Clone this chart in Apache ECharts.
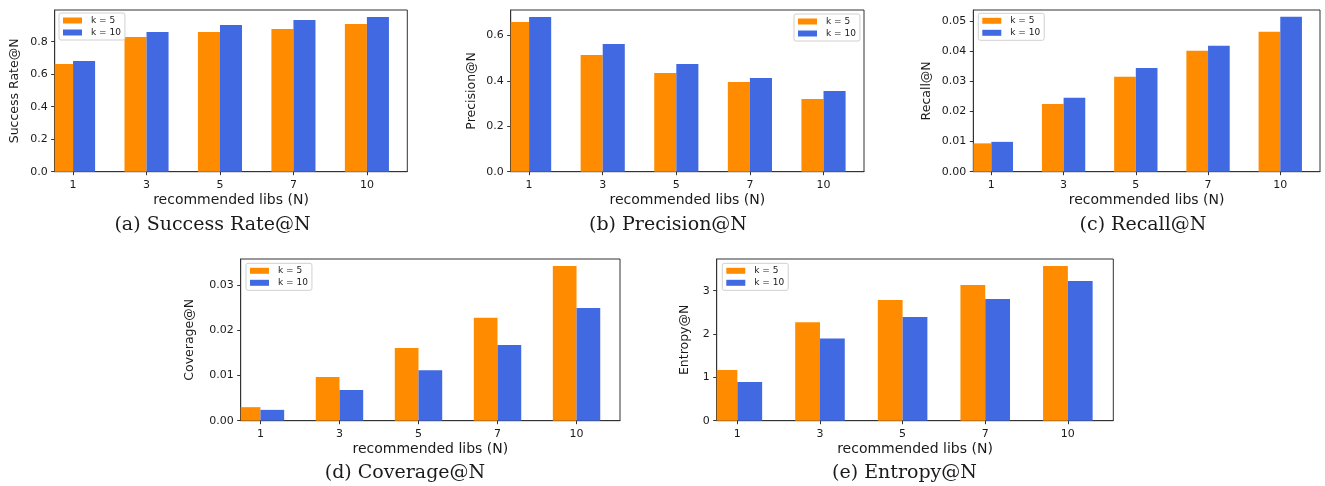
<!DOCTYPE html>
<html>
<head>
<meta charset="utf-8">
<script src="https://cdn.jsdelivr.net/npm/echarts@6/dist/echarts.min.js"></script>
<style>
html,body{margin:0;padding:0;background:#fff;}
#chart{width:1325px;height:486px;}
</style>
</head>
<body>
<div id="chart"></div>
<script>
// ---- data ----
const categories = ['1', '3', '5', '7', '10'];
const seriesNames = ['k = 5', 'k = 10'];

const successK5  = [0.663, 0.829, 0.860, 0.878, 0.909];
const successK10 = [0.681, 0.860, 0.903, 0.933, 0.952];

const precisionK5  = [0.660, 0.515, 0.435, 0.396, 0.321];
const precisionK10 = [0.682, 0.563, 0.475, 0.413, 0.356];

const recallK5  = [0.0094, 0.0225, 0.0315, 0.0401, 0.0464];
const recallK10 = [0.0099, 0.0245, 0.0344, 0.0418, 0.0514];

const coverageK5  = [0.0030, 0.0097, 0.0161, 0.0228, 0.0343];
const coverageK10 = [0.0024, 0.0068, 0.0112, 0.0168, 0.0250];

const entropyK5  = [1.17, 2.27, 2.785, 3.13, 3.57];
const entropyK10 = [0.893, 1.90, 2.393, 2.81, 3.224];

const successTicks   = [0, 0.2, 0.4, 0.6, 0.8];
const precisionTicks = [0, 0.2, 0.4, 0.6];
const recallTicks    = [0, 0.01, 0.02, 0.03, 0.04, 0.05];
const coverageTicks  = [0, 0.01, 0.02, 0.03];
const entropyTicks   = [0, 1, 2, 3];

const yTitles = ['Success Rate@N', 'Precision@N', 'Recall@N', 'Coverage@N', 'Entropy@N'];
const captions = ['(a) Success Rate@N', '(b) Precision@N', '(c) Recall@N', '(d) Coverage@N', '(e) Entropy@N'];
const yMax = [0.995, 0.713, 0.05365, 0.03583, 3.732];
const yDecimals = [1, 1, 2, 2, 0];

// ---- layout ----
const panels = [
  {left: 54.7, top: 10, width: 352.6, height: 161.7, nameGap: 33, legend: {left: 59, top: 13}, cap: [212.5, 224]},
  {left: 510.7, top: 10, width: 353.3, height: 161.7, nameGap: 32, legend: {left: 794, top: 14}, cap: [668, 224]},
  {left: 973.3, top: 10, width: 346.7, height: 161.7, nameGap: 40, legend: {left: 978.3, top: 13.3}, cap: [1143, 224]},
  {left: 240.7, top: 259, width: 379.3, height: 161.7, nameGap: 44, legend: {left: 246, top: 263.3}, cap: [405, 471.7]},
  {left: 716.7, top: 259, width: 396.6, height: 161.7, nameGap: 25, legend: {left: 722.3, top: 263.3}, cap: [904.5, 471.7]}
];
const dataSets = [
  [successK5, successK10],
  [precisionK5, precisionK10],
  [recallK5, recallK10],
  [coverageK5, coverageK10],
  [entropyK5, entropyK10]
];
const yTicks = [successTicks, precisionTicks, recallTicks, coverageTicks, entropyTicks];
const colors = ['#FF8C00', '#4169E1'];
const BAR_W = 0.3;
const FONT = 'DejaVu Sans';
const TXT = '#1a1a1a';
const AX = '#333333';

function makeRender(offsetIdx) {
  return function (params, api) {
    const i = api.value(0);
    const v = api.value(1);
    const x0 = offsetIdx === 0 ? i - BAR_W : i;
    const x1 = x0 + BAR_W;
    const p0 = api.coord([x0, v]);
    const p1 = api.coord([x1, 0]);
    const rect = echarts.graphic.clipRectByRect({
      x: p0[0], y: p0[1], width: p1[0] - p0[0], height: p1[1] - p0[1]
    }, {
      x: params.coordSys.x, y: params.coordSys.y,
      width: params.coordSys.width, height: params.coordSys.height
    });
    if (!rect) return;
    return {type: 'rect', shape: rect, style: {fill: api.visual('color')}};
  };
}

const grids = [], xAxes = [], yAxes = [], series = [], legends = [], graphics = [];
panels.forEach((p, k) => {
  grids.push({left: p.left, top: p.top, width: p.width, height: p.height,
    show: true, borderColor: AX, borderWidth: 1, backgroundColor: 'transparent', containLabel: false});
  xAxes.push({
    type: 'value', gridIndex: k, min: -0.25, max: 4.55,
    name: 'recommended libs (N)', nameLocation: 'middle', nameGap: 22,
    nameTextStyle: {fontFamily: FONT, fontSize: 14, color: TXT},
    axisLine: {show: true, onZero: false, lineStyle: {color: AX}},
    axisTick: {show: true, length: 3.5, lineStyle: {color: AX}, customValues: [0, 1, 2, 3, 4]},
    axisLabel: {show: true, margin: 7.5, fontFamily: FONT, fontSize: 11, color: TXT,
      customValues: [0, 1, 2, 3, 4], formatter: v => categories[Math.round(v)]},
    splitLine: {show: false}
  });
  yAxes.push({
    type: 'value', gridIndex: k, min: 0, max: yMax[k],
    name: yTitles[k], nameLocation: 'middle', nameGap: p.nameGap, nameRotate: 90,
    nameTextStyle: {fontFamily: FONT, fontSize: 12.5, color: TXT},
    axisLine: {show: true, onZero: false, lineStyle: {color: AX}},
    axisTick: {show: true, length: 3.5, lineStyle: {color: AX}, customValues: yTicks[k]},
    axisLabel: {show: true, margin: 7, fontFamily: FONT, fontSize: 11, color: TXT,
      customValues: yTicks[k], formatter: v => v.toFixed(yDecimals[k])},
    splitLine: {show: false}
  });
  dataSets[k].forEach((vals, s) => {
    series.push({
      type: 'custom', name: seriesNames[s], xAxisIndex: k, yAxisIndex: k,
      itemStyle: {color: colors[s]},
      renderItem: makeRender(s),
      encode: {x: 0, y: 1},
      data: vals.map((v, i) => [i, v]),
      animation: false
    });
  });
  legends.push({
    left: p.legend.left, top: p.legend.top, orient: 'vertical',
    data: seriesNames.map(n => ({name: n, icon: 'rect'})),
    itemWidth: 19, itemHeight: 6, itemGap: 3,
    padding: [3, 4, 3, 4],
    borderColor: '#d0d0d0', borderWidth: 1, borderRadius: 2, backgroundColor: '#fff',
    textStyle: {fontFamily: FONT, fontSize: 9, color: TXT, padding: [0, 0, 0, 4]},
    selectedMode: false
  });
  graphics.push({
    type: 'text', x: p.cap[0], y: p.cap[1] + 1,
    style: {text: captions[k], font: '19px "DejaVu Serif"', fill: TXT, align: 'center', verticalAlign: 'middle'}
  });
});

const chart = echarts.init(document.getElementById('chart'), null, {renderer: 'canvas'});
chart.setOption({
  animation: false,
  backgroundColor: '#fff',
  grid: grids, xAxis: xAxes, yAxis: yAxes, series: series, legend: legends, graphic: graphics
});
</script>
</body>
</html>
